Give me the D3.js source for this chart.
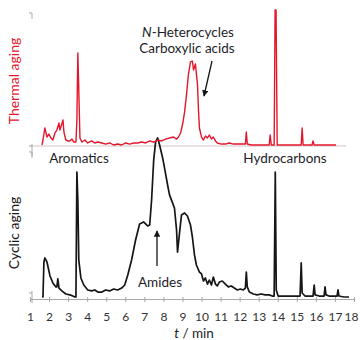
<!DOCTYPE html>
<html>
<head>
<meta charset="utf-8">
<script src="https://cdn.jsdelivr.net/npm/d3@7/dist/d3.min.js"></script>
<style>
  html, body { margin: 0; padding: 0; background: #fff; }
  svg { display: block; font-family: Lato, "Open Sans", sans-serif; }
</style>
</head>
<body>
<svg id="chart" width="360" height="340"></svg>
<script>
// Retention times (min) and relative intensities of the two chromatograms
const thermalTime = [1.63,1.68,1.78,1.89,1.99,2.10,2.20,2.31,2.41,2.52,2.57,2.67,2.73,2.78,2.88,2.99,3.09,3.20,3.30,3.41,3.46,3.51,3.56,3.62,3.72,3.88,
  4.03,4.24,4.40,4.56,4.77,4.97,5.18,5.39,5.60,5.81,6.02,6.23,6.44,6.65,6.86,7.07,7.28,7.49,7.70,7.90,8.11,8.32,8.53,8.69,8.79,8.90,9.00,9.11,9.21,9.31,
  9.42,9.52,9.58,9.68,9.79,9.84,9.89,10.00,10.10,10.20,10.31,10.41,10.52,10.62,10.73,10.83,11.04,11.25,11.46,11.67,11.88,12.09,12.30,12.35,12.40,
  12.61,12.82,13.13,13.45,13.55,13.60,13.66,13.76,13.81,13.86,13.91,13.97,14.18,14.60,15.12,15.23,15.28,15.33,15.65,15.80,15.85,15.91,16.17,16.69,17.06];
const thermal = [0,3.7,12.6,5.9,8.1,5.2,3.7,8.9,11.1,16.3,11.1,15.6,18.5,9.6,3.7,3.0,3.0,4.4,2.2,2.2,18.5,68.1,40.7,5.2,2.2,3.7,
  1.5,3.0,1.5,2.2,1.5,0.7,1.5,0,0.7,0,1.5,0.7,1.5,1.5,2.2,1.5,3.0,2.2,3.7,3.0,4.4,5.2,5.9,4.4,5.9,8.9,14.8,24.4,37.0,51.9,
  61.5,62.2,55.6,60.0,44.4,25.9,12.6,5.9,3.7,6.7,5.2,7.4,4.4,5.9,3.0,1.5,0.7,0.7,1.5,0.7,0.7,0.7,0.7,9.6,0.7,
  0,0,0,0,0,7.4,0,0,0,100,100,0,0,0,0,0,12.6,0,0,0,3.0,0,0,0,0];

const cyclicTime = [1.63,1.68,1.73,1.78,1.89,2.05,2.20,2.36,2.41,2.46,2.52,2.67,2.88,3.09,3.25,3.35,3.41,3.46,3.51,3.56,3.67,3.82,
  4.03,4.24,4.40,4.56,4.77,4.97,5.18,5.39,5.60,5.81,5.97,6.13,6.33,6.54,6.75,6.96,7.17,7.28,7.38,7.49,7.59,7.70,7.80,7.96,8.06,8.22,8.32,8.48,8.58,
  8.69,8.74,8.85,8.95,9.11,9.26,9.42,9.52,9.63,9.73,9.89,10.00,10.10,10.20,10.31,10.41,10.52,10.62,10.73,10.83,10.94,11.09,11.25,11.41,11.56,11.72,
  11.88,12.04,12.19,12.30,12.35,12.40,12.51,12.72,12.92,13.13,13.34,13.55,13.71,13.81,13.87,13.92,14.02,14.34,14.60,14.86,15.12,15.17,15.23,15.28,
  15.43,15.75,15.85,15.91,15.96,16.17,16.43,16.48,16.53,16.69,16.95,17.11,17.16,17.21,17.47,17.74];
const cyclic = [0,0,21.9,24.4,21.9,13.1,8.8,6.3,6.3,11.3,5.6,3.8,1.9,1.3,0.6,0,0,78.1,60.6,23.1,11.9,7.5,
  4.4,3.8,4.4,3.1,3.1,4.4,3.8,5.0,4.4,5.6,7.5,13.8,23.1,35.6,45.6,46.9,44.4,45.0,60.6,85.6,96.9,99.4,95.0,86.9,80.6,70.0,63.8,58.8,55.6,
  41.9,28.1,40.6,51.3,52.5,50.6,45.0,37.5,26.3,20.0,15.6,14.4,10.0,11.9,8.1,10.6,7.5,12.5,8.1,6.9,9.4,10.0,8.1,6.3,6.9,5.6,
  4.4,5.0,4.4,5.6,15.6,6.3,3.1,1.9,1.3,1.9,1.3,1.3,0.6,0.6,78.1,4.4,0.6,0.6,0.6,0.6,0.6,0.6,21.3,2.5,
  0.6,0.6,0.6,7.5,1.3,0.6,0.6,6.3,1.3,0.6,0.6,0.6,4.4,0.6,0,0];

const tickLabels = ["1","2","3","4","5","6","7","8","9","10","11","12","13","14","15","16","17","18"];
const timeDomain = [1, 18];

const svg = d3.select("#chart");
const x = d3.scaleLinear().domain(timeDomain).range([30, 354]);
const yThermal = d3.scaleLinear().domain([0, 100]).range([145, 10]);
const yCyclic = d3.scaleLinear().domain([0, 100]).range([297, 137]);

const axisGray = "#a8a8a8";
const red = "#e3162c";
const ink = "#161616";

// faint panel baselines / y-axis end marks
svg.append("line").attr("x1", x(1)).attr("x2", 346).attr("y1", yThermal(0) + 1).attr("y2", yThermal(0) + 1)
  .attr("stroke", "#d7c3c6").attr("stroke-width", 1);
function endMarks(yTop, yBot) {
  const g = svg.append("g").attr("stroke", axisGray).attr("stroke-width", 1);
  g.append("line").attr("x1", 32).attr("x2", 32).attr("y1", yTop).attr("y2", yTop + 6);
  g.append("line").attr("x1", 29).attr("x2", 32).attr("y1", yTop).attr("y2", yTop);
  g.append("line").attr("x1", 32).attr("x2", 32).attr("y1", yBot - 2).attr("y2", yBot + 10);
  g.append("line").attr("x1", 29).attr("x2", 32).attr("y1", yBot).attr("y2", yBot);
}
endMarks(yThermal(100) + 3, yThermal(0) + 1);
endMarks(yCyclic(100) + 15, yCyclic(0) - 4);

// bottom time axis
const xAxis = d3.axisBottom(x)
  .tickValues(d3.range(1, 19))
  .tickFormat((d, i) => tickLabels[i])
  .tickSizeInner(3).tickSizeOuter(0).tickPadding(10);
const gx = svg.append("g").attr("transform", "translate(0,299)").call(xAxis);
gx.select(".domain").attr("stroke", axisGray);
gx.selectAll(".tick line").attr("stroke", axisGray).attr("y1", -2);
gx.selectAll(".tick text").attr("fill", "#333").attr("font-size", 12).attr("font-family", "Lato, sans-serif");
// keep the last label inside the frame
gx.selectAll(".tick text").filter((d, i) => i === tickLabels.length - 1).attr("dx", -3);

// chromatogram traces
const lineOf = (ys) => d3.line().x(d => x(d[0])).y(d => ys(d[1]));
svg.append("path")
  .datum(d3.zip(cyclicTime, cyclic))
  .attr("d", lineOf(yCyclic))
  .attr("fill", "none").attr("stroke", ink).attr("stroke-width", 1.7).attr("stroke-linejoin", "round");
svg.append("path")
  .datum(d3.zip(thermalTime, thermal))
  .attr("d", lineOf(yThermal))
  .attr("fill", "none").attr("stroke", red).attr("stroke-width", 1.4).attr("stroke-linejoin", "round");

// panel titles
svg.append("text").attr("transform", "translate(19,81) rotate(-90)")
  .attr("text-anchor", "middle").attr("fill", red).attr("font-size", 14).text("Thermal aging");
svg.append("text").attr("transform", "translate(19,233) rotate(-90)")
  .attr("text-anchor", "middle").attr("fill", ink).attr("font-size", 14).text("Cyclic aging");

// annotations
const note = (tx, ty, s) => svg.append("text").attr("x", tx).attr("y", ty)
  .attr("text-anchor", "middle").attr("fill", "#1d1d28").attr("font-size", 13.5).text(s);
const het = svg.append("text").attr("x", 188).attr("y", 37).attr("text-anchor", "middle")
  .attr("fill", "#1d1d28").attr("font-size", 13.5);
het.append("tspan").attr("font-style", "italic").text("N");
het.append("tspan").text("-Heterocycles");
note(187, 53, "Carboxylic acids");
note(79, 163, "Aromatics");
note(285, 163, "Hydrocarbons");
note(160, 287, "Amides");

const axisTitle = svg.append("text").attr("x", 194).attr("y", 338).attr("text-anchor", "middle")
  .attr("fill", "#1d1d28").attr("font-size", 13.5);
axisTitle.append("tspan").attr("font-style", "italic").text("t");
axisTitle.append("tspan").text(" / min");

// arrows
const defs = svg.append("defs");
defs.append("marker").attr("id", "head").attr("viewBox", "0 0 10 10")
  .attr("refX", 9).attr("refY", 5).attr("markerWidth", 5).attr("markerHeight", 5)
  .attr("orient", "auto")
  .append("path").attr("d", "M0,0 L10,5 L0,10 Z").attr("fill", ink);
svg.append("line").attr("x1", 212).attr("y1", 61).attr("x2", 204).attr("y2", 96)
  .attr("stroke", ink).attr("stroke-width", 1.3).attr("marker-end", "url(#head)");
svg.append("line").attr("x1", 157).attr("y1", 266).attr("x2", 157).attr("y2", 231)
  .attr("stroke", ink).attr("stroke-width", 1.3).attr("marker-end", "url(#head)");
</script>
</body>
</html>
